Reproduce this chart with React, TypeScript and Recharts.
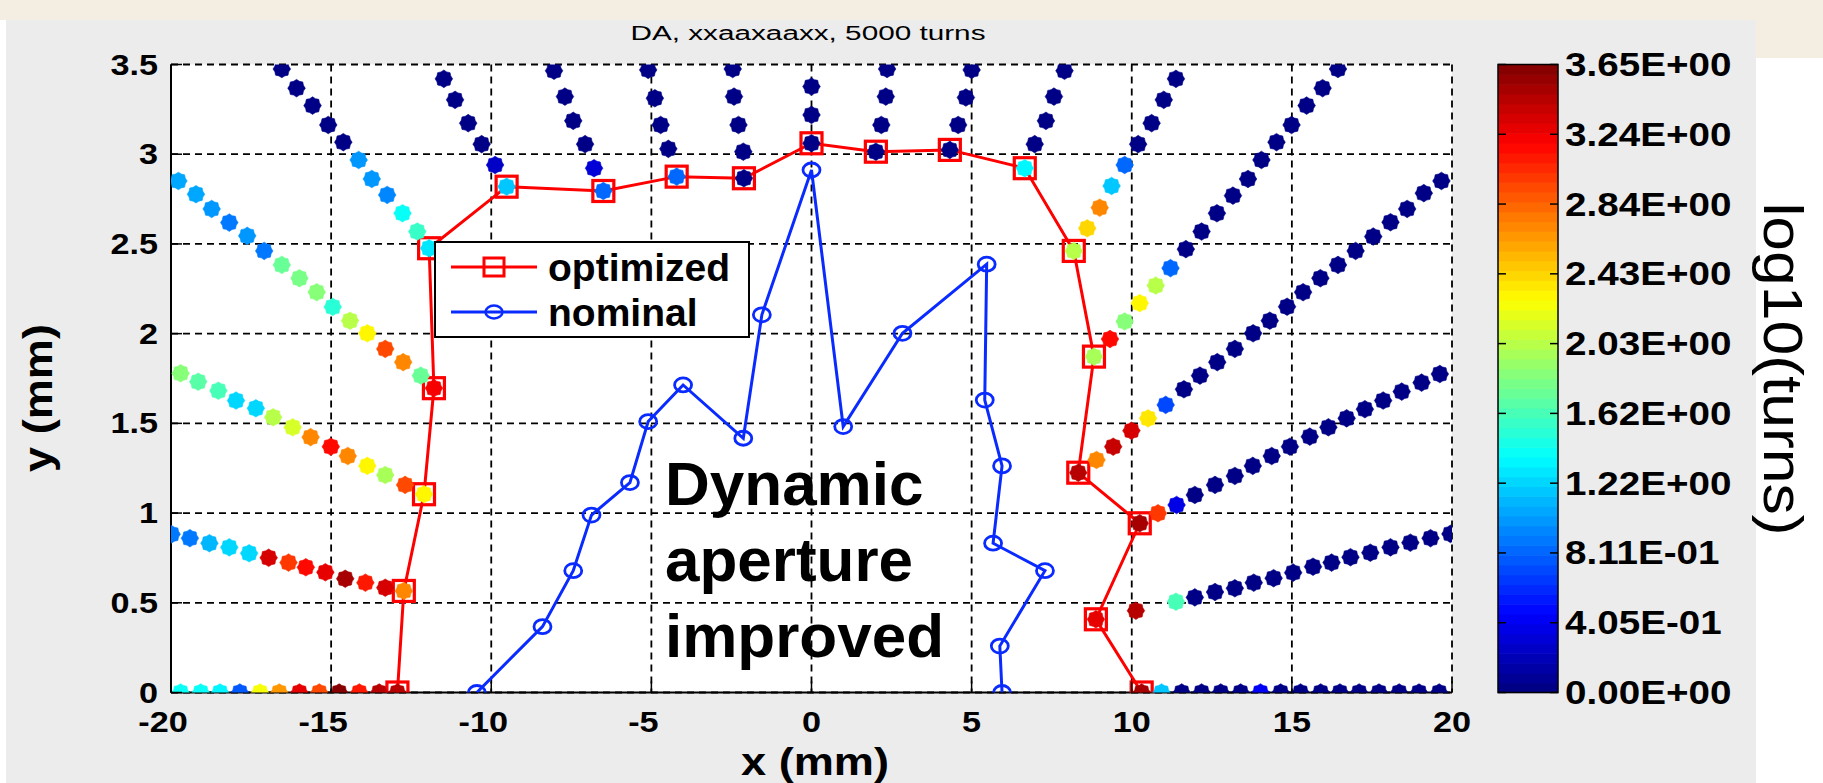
import React from 'react';
import { ScatterChart, Scatter, XAxis, YAxis, CartesianGrid, Legend } from 'recharts';

const W = 1823;
const H = 783;
const FONT = '"Liberation Sans", Arial, Helvetica, sans-serif';

const titleText = 'DA, xxaaxaaxx, 5000 turns';
const xLabel = 'x (mm)';
const yLabel = 'y (mm)';
const colorbarLabel = 'log10(turns)';
const annotationLines = ['Dynamic', 'aperture', 'improved'];

const xTicks = [-20, -15, -10, -5, 0, 5, 10, 15, 20];
const yTicks = [0, 0.5, 1, 1.5, 2, 2.5, 3, 3.5];
const colorbarTickLabels = ['0.00E+00', '4.05E-01', '8.11E-01', '1.22E+00', '1.62E+00', '2.03E+00', '2.43E+00', '2.84E+00', '3.24E+00', '3.65E+00'];
const turnsMax = 3.65;

// [x (mm), y (mm), log10(turns)]
type P = [number, number, number];

const rayL0: P[] = [[-19.70,0,1.39],[-19.07,0,1.39],[-18.47,0,1.35],[-17.85,0,0.77],[-17.22,0,2.26],[-16.62,0,2.66],[-15.99,0,3.29],[-15.37,0,2.92],[-14.75,0,3.62],[-14.12,0,3.1],[-13.50,0,3.47],[-12.93,0,3.45]];
const rayL1: P[] = [[-19.98,0.882,0.9],[-19.41,0.860,0.9],[-18.80,0.832,1.1],[-18.18,0.809,1.2],[-17.56,0.776,1.25],[-16.95,0.751,3.35],[-16.33,0.724,2.98],[-15.79,0.698,3.15],[-15.18,0.670,3.3],[-14.56,0.634,3.52],[-13.93,0.612,3.1],[-13.31,0.584,3.35],[-12.73,0.566,2.7]];
const rayL2: P[] = [[-19.70,1.779,1.83],[-19.15,1.732,1.7],[-18.52,1.682,1.6],[-17.97,1.627,1.2],[-17.35,1.584,1.2],[-16.81,1.534,2.05],[-16.20,1.478,2.15],[-15.64,1.423,2.7],[-15.01,1.370,3.15],[-14.48,1.318,2.7],[-13.87,1.263,2.3],[-13.31,1.212,1.95],[-12.69,1.157,2.92],[-12.10,1.105,2.3]];
const rayL3: P[] = [[-19.77,2.851,1.05],[-19.22,2.777,1.05],[-18.73,2.695,1.0],[-18.18,2.619,0.88],[-17.62,2.545,1.0],[-17.09,2.461,0.88],[-16.54,2.383,1.72],[-15.99,2.309,1.78],[-15.45,2.231,1.83],[-14.95,2.149,1.5],[-14.41,2.072,2.0],[-13.87,2.002,2.3],[-13.31,1.915,2.95],[-12.75,1.841,2.7],[-12.20,1.766,1.72],[-11.79,1.696,3.2]];
const rayL4: P[] = [[-16.54,3.475,0.04],[-16.08,3.368,0.04],[-15.58,3.271,0.04],[-15.09,3.163,0.04],[-14.62,3.067,0.04],[-14.14,2.968,1.0],[-13.73,2.862,1.0],[-13.25,2.773,0.95],[-12.77,2.671,1.4],[-12.31,2.569,1.55],[-11.94,2.476,1.3]];
const rayL5: P[] = [[-11.48,3.42,0.04],[-11.13,3.303,0.04],[-10.72,3.173,0.04],[-10.30,3.056,0.04],[-9.88,2.940,0.25],[-9.52,2.819,1.15]];
const rayL6: P[] = [[-8.04,3.465,0.04],[-7.70,3.321,0.04],[-7.44,3.186,0.04],[-7.07,3.056,0.04],[-6.79,2.922,0.3],[-6.50,2.795,0.8]];
const rayL7: P[] = [[-5.10,3.470,0.04],[-4.89,3.312,0.04],[-4.71,3.163,0.04],[-4.47,3.030,0.04],[-4.21,2.875,0.8]];
const rayL8: P[] = [[-2.46,3.475,0.04],[-2.42,3.321,0.04],[-2.28,3.163,0.04],[-2.13,3.014,0.04],[-2.11,2.866,0.04]];
const rayC: P[] = [[0,3.377,0.04],[0,3.219,0.04],[0,3.061,0.04]];
const rayR8: P[] = [[2.36,3.475,0.04],[2.32,3.321,0.04],[2.18,3.163,0.04],[2.01,3.014,0.04]];
const rayR7: P[] = [[5.00,3.470,0.04],[4.82,3.316,0.04],[4.58,3.163,0.04],[4.32,3.024,0.04]];
const rayR6: P[] = [[7.90,3.465,0.04],[7.57,3.321,0.04],[7.32,3.186,0.04],[6.97,3.056,0.04],[6.66,2.922,1.35]];
const rayR5: P[] = [[11.38,3.42,0.04],[11.00,3.303,0.04],[10.62,3.173,0.04],[10.20,3.056,0.04],[9.78,2.940,0.85],[9.37,2.823,1.15],[9.00,2.702,2.7],[8.61,2.587,2.4],[8.19,2.461,2.05]];
const rayR4: P[] = [[16.44,3.475,0.04],[15.96,3.368,0.04],[15.46,3.271,0.04],[14.99,3.163,0.04],[14.52,3.067,0.04],[14.05,2.968,0.04],[13.63,2.862,0.04],[13.16,2.769,0.04],[12.66,2.671,0.04],[12.18,2.569,0.04],[11.69,2.471,0.04],[11.21,2.365,0.85],[10.75,2.268,2.05],[10.25,2.170,2.3],[9.78,2.068,1.85],[9.32,1.970,3.15],[8.82,1.872,1.95]];
const rayR3: P[] = [[19.67,2.851,0.04],[19.12,2.783,0.04],[18.60,2.695,0.04],[18.08,2.621,0.04],[17.54,2.541,0.04],[16.99,2.461,0.04],[16.44,2.383,0.04],[15.89,2.309,0.04],[15.35,2.231,0.04],[14.85,2.150,0.04],[14.31,2.072,0.04],[13.79,2.002,0.04],[13.22,1.915,0.04],[12.67,1.841,0.04],[12.13,1.766,0.04],[11.63,1.690,0.04],[11.06,1.603,0.7],[10.51,1.528,2.35],[9.99,1.459,3.35],[9.42,1.370,3.4],[8.90,1.296,2.7],[8.33,1.225,3.45]];
const rayR2: P[] = [[19.62,1.775,0.04],[19.05,1.727,0.04],[18.43,1.677,0.04],[17.85,1.627,0.04],[17.28,1.579,0.04],[16.71,1.528,0.04],[16.14,1.478,0.04],[15.56,1.426,0.04],[14.94,1.370,0.04],[14.37,1.318,0.04],[13.78,1.263,0.04],[13.22,1.207,0.04],[12.60,1.157,0.04],[11.97,1.101,0.04],[11.40,1.045,0.35],[10.82,0.999,2.98],[10.25,0.943,3.5]];
const rayR1: P[] = [[19.95,0.884,0.04],[19.33,0.860,0.04],[18.70,0.835,0.04],[18.08,0.809,0.04],[17.45,0.779,0.04],[16.83,0.754,0.04],[16.24,0.724,0.04],[15.66,0.701,0.04],[15.04,0.668,0.04],[14.43,0.637,0.04],[13.81,0.612,0.04],[13.22,0.581,0.04],[12.60,0.560,0.04],[11.97,0.530,0.04],[11.38,0.506,1.6],[10.13,0.456,3.45],[8.88,0.408,3.3]];
const rayR0: P[] = [[10.31,0,3.5],[10.93,0,1.15],[11.56,0,0.04],[12.18,0,0.04],[12.78,0,0.04],[13.40,0,0.04],[14.02,0,0.4],[14.65,0,0.04],[15.27,0,0.04],[15.90,0,0.04],[16.50,0,0.04],[17.10,0,0.04],[17.72,0,0.04],[18.35,0,0.04],[18.97,0,0.04],[19.60,0,0.04]];

const rays: P[][] = [rayL0, rayL1, rayL2, rayL3, rayL4, rayL5, rayL6, rayL7, rayL8, rayC, rayR8, rayR7, rayR6, rayR5, rayR4, rayR3, rayR2, rayR1, rayR0];

const optimizedX = [-12.93, -12.73, -12.10, -11.79, -11.94, -9.52, -6.50, -4.21, -2.11, 0, 2.01, 4.32, 6.66, 8.19, 8.82, 8.33, 10.25, 8.88, 10.31];
const optimizedY = [0, 0.566, 1.105, 1.696, 2.476, 2.819, 2.795, 2.875, 2.866, 3.061, 3.014, 3.024, 2.922, 2.461, 1.872, 1.225, 0.943, 0.408, 0];

const nominalX = [-10.45, -8.40, -7.44, -6.87, -5.67, -5.10, -4.01, -2.13, -1.55, 0, 0.99, 2.84, 5.47, 5.41, 5.95, 5.67, 7.29, 5.88, 5.95];
const nominalY = [0, 0.367, 0.679, 0.989, 1.170, 1.510, 1.714, 1.417, 2.105, 2.912, 1.482, 2.002, 2.387, 1.630, 1.263, 0.832, 0.679, 0.259, 0];

const RED = '#ff0000';
const BLUE = '#0a2bff';

const optimizedData = optimizedX.map((x, i) => ({ x, y: optimizedY[i] }));
const nominalData = nominalX.map((x, i) => ({ x, y: nominalY[i] }));
const rayData = rays.map((r) => r.map(([x, y, v]) => ({ x, y, v })));

function jet(v: number): string {
  const levels = 64;
  let t = v / turnsMax;
  t = Math.min(1, Math.max(0, t));
  const idx = Math.min(levels - 1, Math.floor(t * levels));
  const tt = (idx + 0.5) / levels;
  const c = (a: number) => Math.round(255 * Math.min(1, Math.max(0, a)));
  return `rgb(${c(1.5 - Math.abs(4 * tt - 3))},${c(1.5 - Math.abs(4 * tt - 2))},${c(1.5 - Math.abs(4 * tt - 1))})`;
}

const RayDot = (props: any) => {
  const { cx, cy, payload } = props;
  if (cx == null || cy == null) return null;
  const fill = jet(payload.v);
  const pts: string[] = [];
  for (let i = 0; i < 16; i++) {
    const a = (i * Math.PI) / 8;
    const r = i % 2 === 0 ? 8.8 : 7.5;
    pts.push(`${cx + r * Math.cos(a)},${cy + r * Math.sin(a)}`);
  }
  return <polygon points={pts.join(' ')} fill={fill} stroke={fill} strokeWidth={0.6} />;
};

const SquareMarker = (props: any) => {
  const { cx, cy } = props;
  if (cx == null || cy == null) return null;
  return <rect x={cx - 10.5} y={cy - 10.5} width={21} height={21} fill="none" stroke={RED} strokeWidth={3.2} />;
};

const CircleMarker = (props: any) => {
  const { cx, cy } = props;
  if (cx == null || cy == null) return null;
  return <ellipse cx={cx} cy={cy} rx={8.5} ry={7} fill="none" stroke={BLUE} strokeWidth={2.8} />;
};

const XTick = (props: any) => {
  const { x, y, payload } = props;
  const v = Number(payload.value);
  const shift = v < 0 ? -8 : 0;
  return (
    <g>
      <line x1={x} x2={x} y1={y} y2={y - 11} stroke="#000" strokeWidth={1.5} />
      <text transform={`translate(${x + shift},${y + 29}) scale(1.18,1)`} textAnchor="middle" dominantBaseline="central" fontSize={29} fontWeight="bold" fontFamily={FONT} fill="#000">
        {String(payload.value)}
      </text>
    </g>
  );
};

const YTick = (props: any) => {
  const { x, y, payload } = props;
  return (
    <g>
      <line x1={x} x2={x + 11} y1={y} y2={y} stroke="#000" strokeWidth={1.5} />
      <text transform={`translate(${x - 13},${y}) scale(1.18,1)`} textAnchor="end" dominantBaseline="central" fontSize={29} fontWeight="bold" fontFamily={FONT} fill="#000">
        {String(payload.value)}
      </text>
    </g>
  );
};

const legendOrder = ['optimized', 'nominal'];
const seriesMarker: Record<string, 'square' | 'circle'> = { optimized: 'square', nominal: 'circle' };
const seriesColor: Record<string, string> = { optimized: RED, nominal: BLUE };
const legendFallback = legendOrder.map((value) => ({ value, color: seriesColor[value] }));

const LegendContent = (props: any) => {
  let payload = (props.payload || []).filter((e: any) => e && e.type !== 'none' && seriesMarker[e.value]);
  if (payload.length === 0) payload = legendFallback;
  payload = [...payload].sort((a: any, b: any) => legendOrder.indexOf(a.value) - legendOrder.indexOf(b.value));
  return (
    <div style={{ width: 316, height: 97, background: '#fff', border: '2px solid #000', boxSizing: 'border-box' }}>
      <svg width={312} height={93} style={{ display: 'block' }}>
        {payload.map((e: any, i: number) => {
          const yy = 24 + i * 45;
          const col = seriesColor[e.value] || e.color;
          return (
            <g key={e.value}>
              <line x1={15} x2={101} y1={yy} y2={yy} stroke={col} strokeWidth={3} />
              {seriesMarker[e.value] === 'square' ? (
                <rect x={48} y={yy - 9} width={20} height={18} fill="none" stroke={col} strokeWidth={3} />
              ) : (
                <ellipse cx={58} cy={yy} rx={8.5} ry={6.5} fill="none" stroke={col} strokeWidth={2.5} />
              )}
              <text x={112} y={yy} dominantBaseline="central" fontSize={39} fontWeight="bold" fontFamily={FONT} fill="#000">
                {e.value}
              </text>
            </g>
          );
        })}
      </svg>
    </div>
  );
};

// colorbar geometry (matches plot top/bottom)
const CB_X = 1498;
const CB_W = 60;
const CB_TOP = 64.5;
const CB_BOT = 692.5;

export default function App() {
  const cbH = CB_BOT - CB_TOP;
  const bands = Array.from({ length: 64 }, (_, i) => i);
  return (
    <div style={{ position: 'absolute', left: 0, top: 0, width: W, height: H, background: '#fff', overflow: 'hidden' }}>
      <svg width={W} height={H} style={{ position: 'absolute', left: 0, top: 0 }}>
        <rect x={0} y={0} width={W} height={20} fill="#f4eee2" />
        <rect x={1756} y={0} width={67} height={58} fill="#f4eee2" />
        <rect x={6} y={20} width={1750} height={H - 20} fill="#ececec" />
      </svg>
      <div style={{ position: 'absolute', left: 0, top: 0 }}>
        <ScatterChart width={W} height={H} margin={{ top: 64.5, right: 371, left: 111, bottom: 40.5 }}>
          <CartesianGrid
            stroke="#000"
            strokeWidth={1.8}
            strokeDasharray="7 5"
            fill="#ffffff"
            fillOpacity={1}
            horizontalValues={yTicks}
            verticalValues={xTicks}
          />
          <XAxis
            type="number"
            dataKey="x"
            domain={[-20, 20]}
            ticks={xTicks}
            allowDataOverflow
            height={50}
            tickSize={0}
            tickMargin={0}
            tickLine={false}
            axisLine={{ stroke: '#000', strokeWidth: 2 }}
            tick={(p: any) => <XTick {...p} />}
            interval={0}
          />
          <YAxis
            type="number"
            dataKey="y"
            domain={[0, 3.5]}
            ticks={yTicks}
            allowDataOverflow
            width={60}
            tickSize={0}
            tickMargin={0}
            tickLine={false}
            axisLine={{ stroke: '#000', strokeWidth: 2 }}
            tick={(p: any) => <YTick {...p} />}
            interval={0}
          />
          <Scatter
            name="optimized"
            data={optimizedData}
            fill={RED}
            stroke={RED}
            line={{ stroke: RED, strokeWidth: 3 }}
            lineJointType="linear"
            shape={(p: any) => <SquareMarker {...p} />}
            isAnimationActive={false}
          />
          <Scatter
            name="nominal"
            data={nominalData}
            fill={BLUE}
            stroke={BLUE}
            line={{ stroke: BLUE, strokeWidth: 3 }}
            lineJointType="linear"
            shape={(p: any) => <CircleMarker {...p} />}
            isAnimationActive={false}
          />
          {rayData.map((d, i) => (
            <Scatter
              key={'ray' + i}
              name={'ray' + i}
              data={d}
              legendType="none"
              fill="#000088"
              shape={(p: any) => <RayDot {...p} />}
              isAnimationActive={false}
            />
          ))}
          <Legend
            layout="vertical"
            align="center"
            verticalAlign="middle"
            wrapperStyle={{ left: 434, top: 241, width: 316, height: 97 }}
            content={(p: any) => <LegendContent {...p} />}
          />
        </ScatterChart>
      </div>
      <svg width={W} height={H} style={{ position: 'absolute', left: 0, top: 0, pointerEvents: 'none' }}>
        <text x={808} y={33} textAnchor="middle" dominantBaseline="central" fontSize={20} fontFamily={FONT} fill="#000" textLength={355} lengthAdjust="spacingAndGlyphs">
          {titleText}
        </text>
        <text x={815} y={762} textAnchor="middle" dominantBaseline="central" fontSize={38} fontWeight="bold" fontFamily={FONT} fill="#000" textLength={148} lengthAdjust="spacingAndGlyphs">
          {xLabel}
        </text>
        <text transform="translate(38,398) rotate(-90)" textAnchor="middle" dominantBaseline="central" fontSize={40} fontWeight="bold" fontFamily={FONT} fill="#000" textLength={148} lengthAdjust="spacingAndGlyphs">
          {yLabel}
        </text>
        {annotationLines.map((s, i) => (
          <text key={s} x={665} y={505 + i * 76} fontSize={62} fontWeight="bold" fontFamily={FONT} fill="#000">
            {s}
          </text>
        ))}
        {bands.map((i) => (
          <rect
            key={i}
            x={CB_X}
            y={CB_BOT - ((i + 1) * cbH) / 64}
            width={CB_W}
            height={cbH / 64 + 0.6}
            fill={jet(((i + 0.5) / 64) * turnsMax)}
          />
        ))}
        <rect x={CB_X} y={CB_TOP} width={CB_W} height={cbH} fill="none" stroke="#000" strokeWidth={1.5} />
        {colorbarTickLabels.map((lab, i) => {
          const yy = CB_BOT - (i * cbH) / (colorbarTickLabels.length - 1);
          return (
            <g key={lab}>
              <line x1={CB_X} x2={CB_X + 8} y1={yy} y2={yy} stroke="#000" strokeWidth={1.5} />
              <line x1={CB_X + CB_W - 8} x2={CB_X + CB_W} y1={yy} y2={yy} stroke="#000" strokeWidth={1.5} />
              <text transform={`translate(1565,${yy}) scale(1.17,1)`} dominantBaseline="central" fontSize={33} fontWeight="bold" fontFamily={FONT} fill="#000">
                {lab}
              </text>
            </g>
          );
        })}
        <text transform="translate(1783,369) rotate(90)" textAnchor="middle" dominantBaseline="central" fontSize={56} fontFamily={FONT} fill="#000" textLength={333} lengthAdjust="spacingAndGlyphs">
          {colorbarLabel}
        </text>
      </svg>
    </div>
  );
}
